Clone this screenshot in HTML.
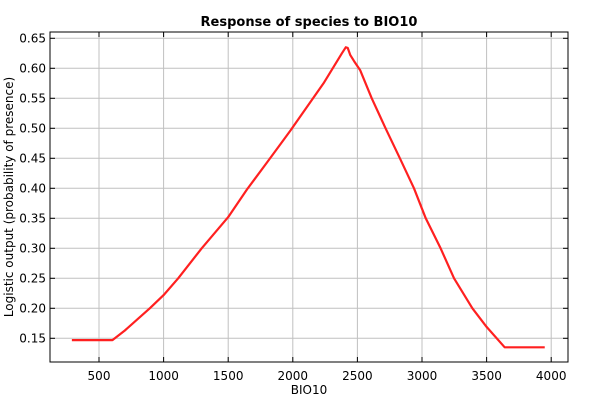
<!DOCTYPE html>
<html><head><meta charset="utf-8"><style>
body{margin:0;background:#fff;font-family:"Liberation Sans",sans-serif}
svg text{font-family:"DejaVu Sans","Liberation Sans",sans-serif}
</style></head><body>
<svg id="chart" width="600" height="400" xmlns="http://www.w3.org/2000/svg">
<rect width="600" height="400" fill="#fff"/>
<g id="grid"></g><g id="ticks"></g>
<polyline id="curve" fill="none" stroke="#ff2020" stroke-width="2.2" stroke-linejoin="round"/>
<rect x="50" y="32" width="518" height="330" fill="none" stroke="#000" stroke-width="1"/>
<text x="309" y="26" text-anchor="middle" font-size="13" font-weight="bold">Response of species to BIO10</text>
<text x="309" y="394" text-anchor="middle" font-size="12">BIO10</text>
<text transform="translate(13,197) rotate(-90)" text-anchor="middle" font-size="12">Logistic output (probability of presence)</text>
</svg>
<script>
const xVals=[290,604,700,893,1000,1113,1295,1500,1645,1800,1916,1984,2238,2380,2410,2425,2445,2474,2521,2611,2718,2829,2938,3029,3144,3248,3390,3500,3640,3950];
const yVals=[0.147,0.147,0.163,0.20,0.222,0.25,0.30,0.352,0.398,0.443,0.477,0.497,0.575,0.625,0.635,0.634,0.622,0.612,0.597,0.55,0.50,0.45,0.40,0.35,0.30,0.25,0.20,0.169,0.135,0.135];
const xTicks=[500,1000,1500,2000,2500,3000,3500,4000];
const yTicks=[0.15,0.20,0.25,0.30,0.35,0.40,0.45,0.50,0.55,0.60,0.65];
const X=v=>99+(v-500)*0.1292;
const Y=v=>38.3+(0.65-v)*600;
const ns="http://www.w3.org/2000/svg";
const grid=document.getElementById('grid'),ticks=document.getElementById('ticks');
function mk(tag,a,p){const e=document.createElementNS(ns,tag);for(const k in a)e.setAttribute(k,a[k]);p.appendChild(e);return e;}
xTicks.forEach(t=>{const x=X(t);
const g=mk('line',{x1:x,x2:x,y1:32,y2:362,stroke:'#c0c0c0'},grid);


mk('line',{x1:x,x2:x,y1:362,y2:357,stroke:'#000'},ticks);
mk('line',{x1:x,x2:x,y1:32,y2:37,stroke:'#000'},ticks);
const tx=mk('text',{x:x,y:380,'text-anchor':'middle','font-size':'12'},ticks);tx.textContent=t;

});
yTicks.forEach(t=>{const y=Y(t);
const g=mk('line',{x1:50,x2:568,y1:y,y2:y,stroke:'#c0c0c0'},grid);


mk('line',{x1:50,x2:55,y1:y,y2:y,stroke:'#000'},ticks);
mk('line',{x1:563,x2:568,y1:y,y2:y,stroke:'#000'},ticks);
const tx=mk('text',{x:46,y:y+4,'text-anchor':'end','font-size':'12'},ticks);tx.textContent=t.toFixed(2);

});
document.getElementById('curve').setAttribute('points',xVals.map((v,i)=>X(v)+','+Y(yVals[i])).join(' '));
</script>
</body></html>
